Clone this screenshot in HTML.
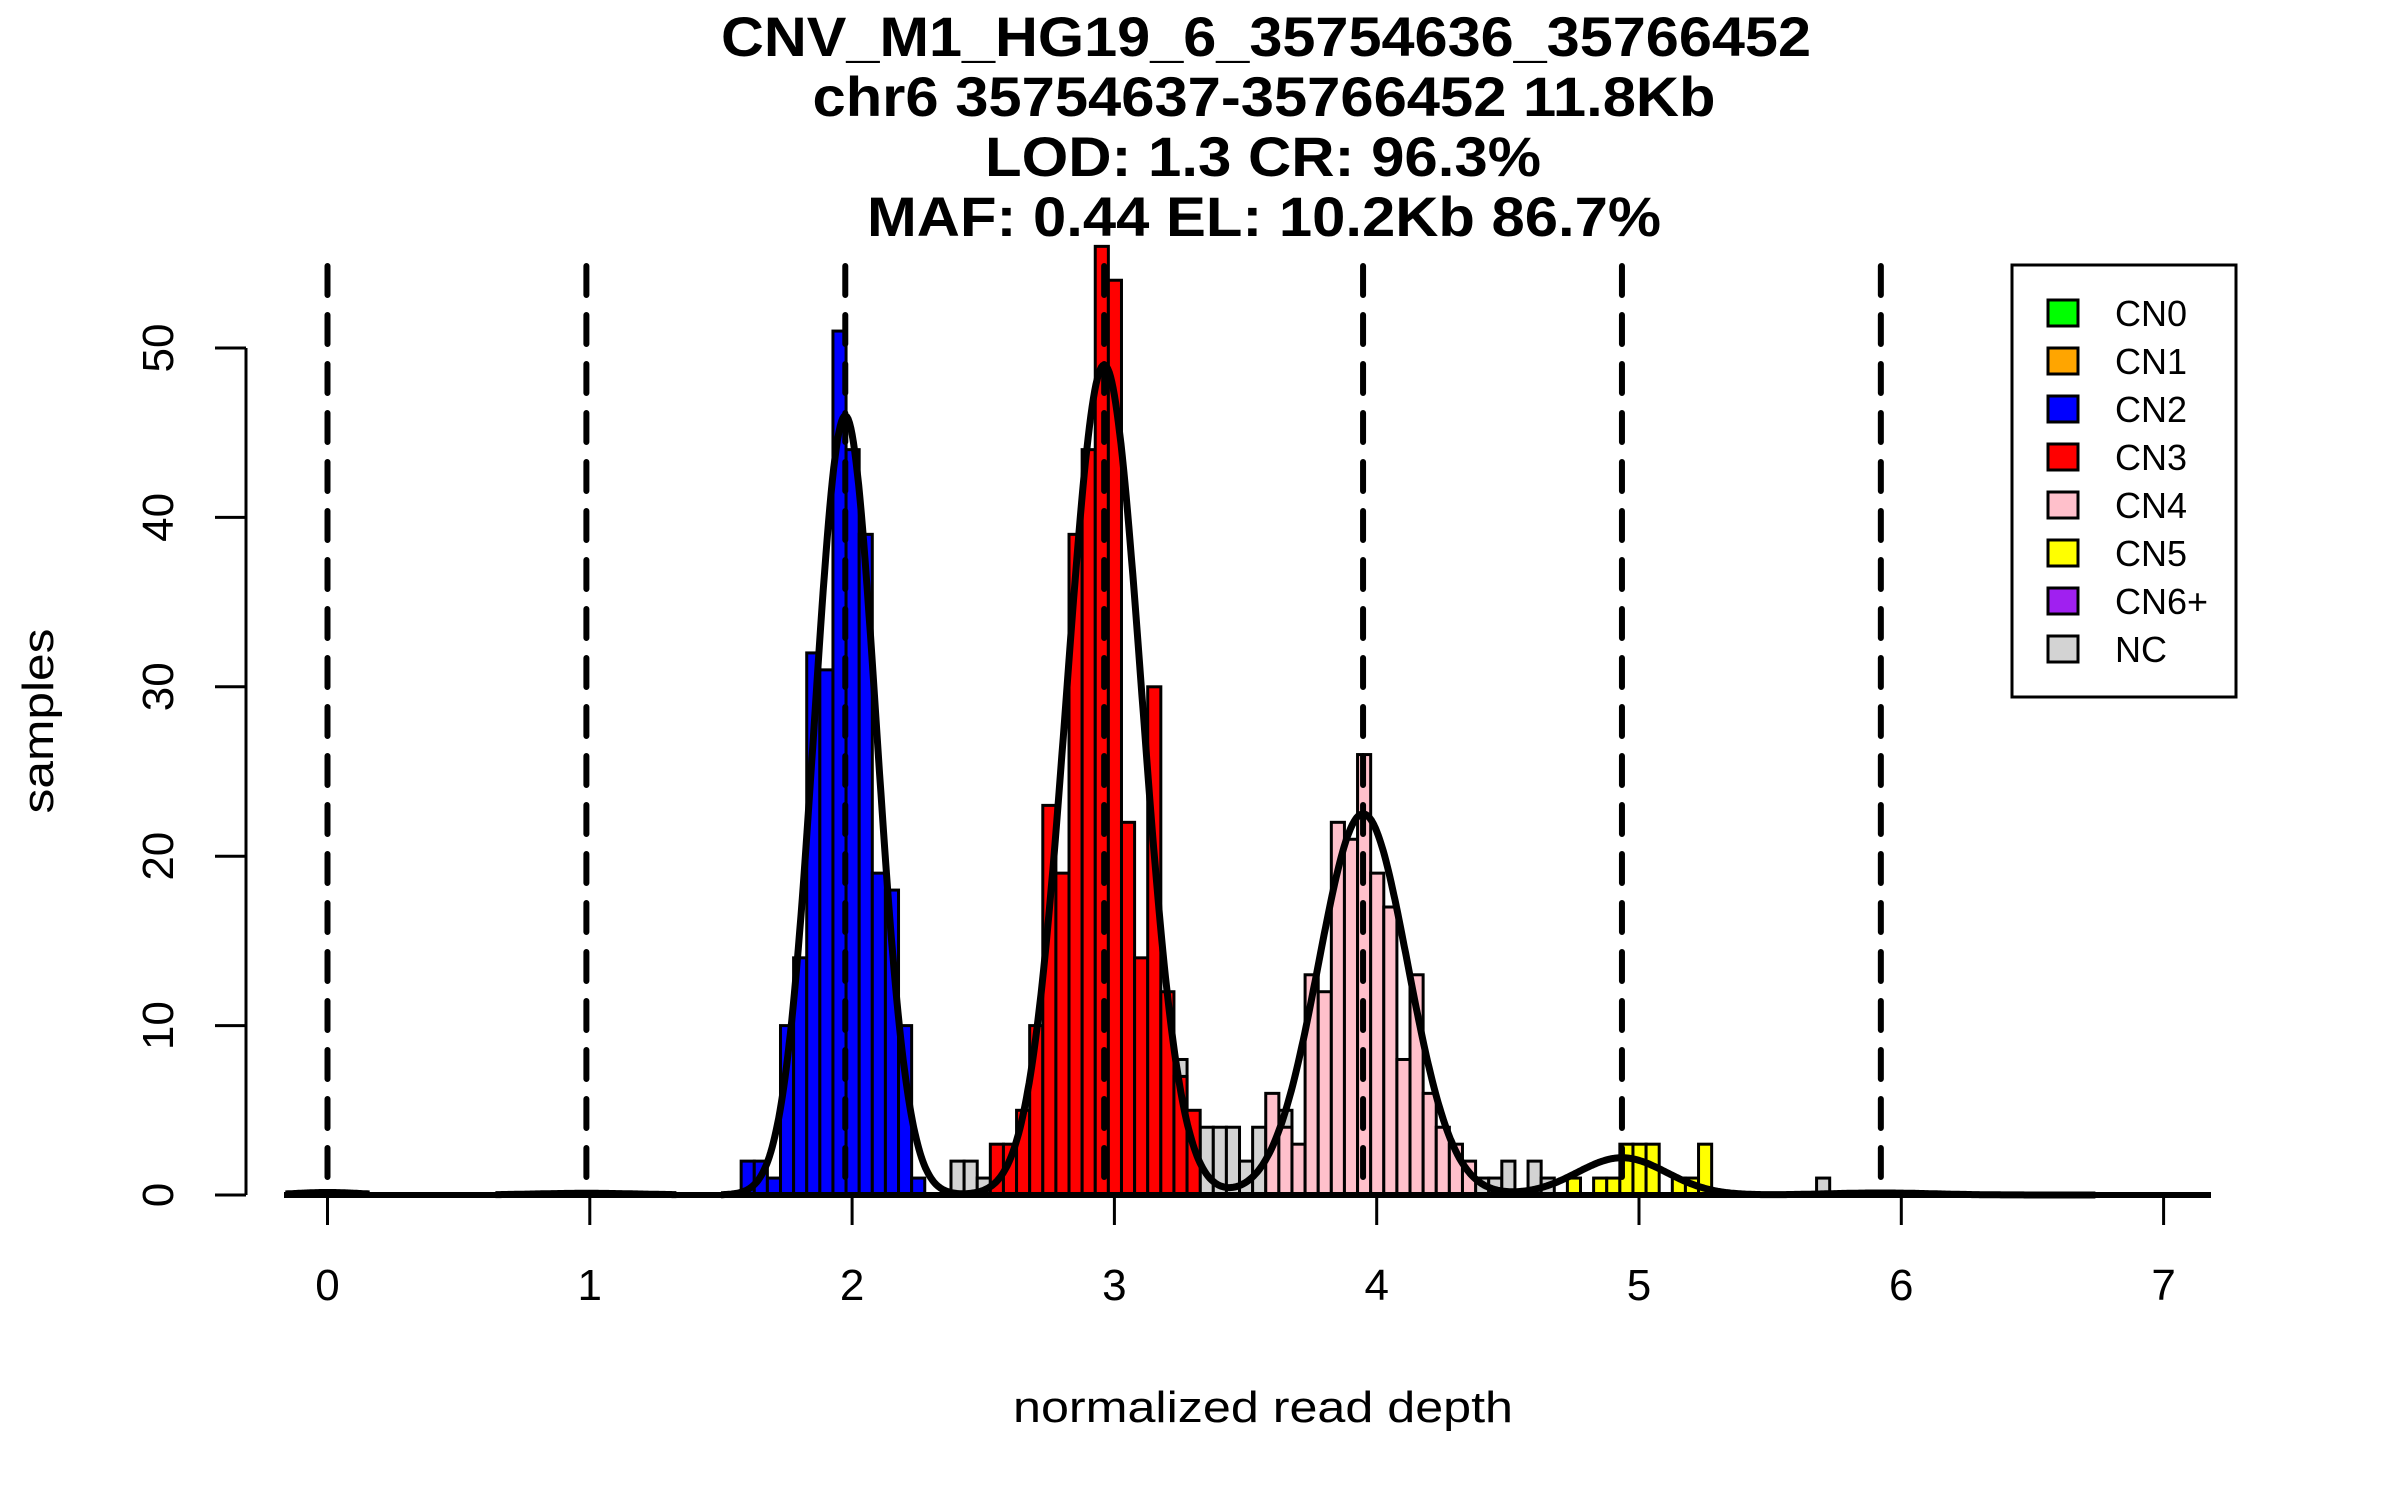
<!DOCTYPE html>
<html><head><meta charset="utf-8"><title>CNV histogram</title>
<style>html,body{margin:0;padding:0;background:#fff;}svg{display:block;}</style></head>
<body>
<svg id="chart" width="2400" height="1500" viewBox="0 0 2400 1500" xmlns="http://www.w3.org/2000/svg" font-family="Liberation Sans, Arial, sans-serif">
<rect width="2400" height="1500" fill="#fff"/>
<g font-weight="bold" font-size="56" text-anchor="middle" fill="#000">
<text x="1266" y="56" textLength="1090" lengthAdjust="spacingAndGlyphs">CNV_M1_HG19_6_35754636_35766452</text>
<text x="1264" y="116" textLength="903" lengthAdjust="spacingAndGlyphs">chr6 35754637-35766452 11.8Kb</text>
<text x="1263" y="176" textLength="556" lengthAdjust="spacingAndGlyphs">LOD: 1.3 CR: 96.3%</text>
<text x="1264" y="236" textLength="794" lengthAdjust="spacingAndGlyphs">MAF: 0.44 EL: 10.2Kb 86.7%</text>
</g>
<g id="bars"></g>
<g id="means"></g>
<g id="curve"></g>
<g id="axes"></g>
<text x="1263" y="1422" font-size="44" text-anchor="middle" textLength="500" lengthAdjust="spacingAndGlyphs">normalized read depth</text>
<text transform="translate(53,721) rotate(-90)" font-size="44" text-anchor="middle" textLength="185" lengthAdjust="spacingAndGlyphs">samples</text>
<g id="legend">
<rect x="2012" y="265" width="224" height="432" fill="#fff" stroke="#000" stroke-width="3"/>
</g>
</svg>
<script>
// ---- data ----
const binWidth = 0.05;
const cn2Start = 1.56;
const cn2Counts = [2,2,1,10,14,32,31,51,44,39,19,18,10,1];
const cn3Start = 2.51;
const cn3Counts = [3,3,5,10,23,19,39,44,56,54,22,14,30,12,7,5];
const cn4Start = 3.56;
const cn4Counts = [6,4,3,13,12,22,21,26,19,17,8,13,6,4,3,2];
const cn5Bins = [4.71,4.81,4.86,4.91,4.96,5.01,5.11,5.16,5.21];
const cn5Counts = [1,1,1,3,3,3,1,1,3];
const ncBins = [2.36,2.41,2.46,3.21,3.31,3.36,3.41,3.46,3.51,3.61,4.36,4.41,4.46,4.56,4.61,5.66];
const ncCounts = [2,2,1,8,4,4,4,2,4,5,1,1,2,2,1,1];
const cnMeans = [0,0.987,1.974,2.961,3.948,4.935,5.922];
const fitAmps = [0.15,0.1,46,49,22.5,2.2,0.12];
const fitSigmas = [0.12,0.2,0.118,0.143,0.17,0.17,0.2];
const xTicks = [0,1,2,3,4,5,6,7];
const yTicks = [0,10,20,30,40,50];
const legendLabels = ["CN0","CN1","CN2","CN3","CN4","CN5","CN6+","NC"];
const legendColors = ["#00ff00","#ffa500","#0000ff","#ff0000","#ffc0cb","#ffff00","#a020f0","#d3d3d3"];

// ---- scales ----
const X0 = 327.5, XU = 262.3, Y0 = 1195, YU = 16.94;
const sx = d => X0 + d * XU;
const sy = v => Y0 - v * YU;
const NS = "http://www.w3.org/2000/svg";
function mk(tag, attrs, parent){ const e=document.createElementNS(NS,tag); for(const k in attrs) e.setAttribute(k,attrs[k]); parent.appendChild(e); return e; }

const bars = document.getElementById('bars');
function drawBar(left, count, color, name){
  const off = 0.017;
  const x1 = sx(left+off), x2 = sx(left+off+binWidth);
  const r = mk('rect',{x:x1,y:sy(count),width:x2-x1,height:sy(0)-sy(count),fill:color,stroke:'#000','stroke-width':3},bars);
  
  
}
ncBins.forEach((b,i)=>drawBar(b,ncCounts[i],'#d3d3d3','bar-nc'));
cn2Counts.forEach((c,i)=>drawBar(cn2Start+i*binWidth,c,'#0000ff','bar-cn2'));
cn3Counts.forEach((c,i)=>drawBar(cn3Start+i*binWidth,c,'#ff0000','bar-cn3'));
cn4Counts.forEach((c,i)=>drawBar(cn4Start+i*binWidth,c,'#ffc0cb','bar-cn4'));
cn5Bins.forEach((b,i)=>drawBar(b,cn5Counts[i],'#ffff00','bar-cn5'));

// mean dashed lines
const means = document.getElementById('means');
cnMeans.forEach(m=>{
  const l = mk('line',{x1:sx(m),x2:sx(m),y1:266,y2:Y0,stroke:'#000','stroke-width':6,'stroke-dasharray':'29 20','stroke-linecap':'round'},means);
  
  
});

// density curve
const curve = document.getElementById('curve');
const base = mk('line',{x1:284,x2:2211,y1:Y0,y2:Y0,stroke:'#000','stroke-width':6},curve);


function dens(x){ let s=0; for(let i=0;i<cnMeans.length;i++){ const z=(x-cnMeans[i])/fitSigmas[i]; s+=fitAmps[i]*Math.exp(-0.5*z*z);} return s; }
[[-0.16,0.16],[0.64,1.33],[1.5,6.74]].forEach(seg=>{
  let d=''; const n=Math.round((seg[1]-seg[0])/0.005);
  for(let i=0;i<=n;i++){ const x=seg[0]+i*(seg[1]-seg[0])/n; d+=(i?'L':'M')+sx(x).toFixed(1)+','+sy(dens(x)).toFixed(1); }
  const p = mk('path',{d:d,fill:'none',stroke:'#000','stroke-width':7,'stroke-linejoin':'round'},curve);
  
  
});

// axes
const axes = document.getElementById('axes');
const ya = mk('line',{x1:246,x2:246,y1:sy(50),y2:sy(0),stroke:'#000','stroke-width':3},axes);


yTicks.forEach(v=>{
  const t = mk('line',{x1:215,x2:246,y1:sy(v),y2:sy(v),stroke:'#000','stroke-width':3},axes);
  
  
  const lb = mk('text',{transform:`translate(173,${sy(v)}) rotate(-90)`,'font-size':44,'text-anchor':'middle'},axes);
  lb.textContent = v;
  
  
});
xTicks.forEach(v=>{
  const t = mk('line',{x1:sx(v),x2:sx(v),y1:Y0,y2:1225,stroke:'#000','stroke-width':3},axes);
  
  
  const lb = mk('text',{x:sx(v),y:1300,'font-size':44,'text-anchor':'middle'},axes);
  lb.textContent = v;
  
  
});

// legend
const legend = document.getElementById('legend');
legendLabels.forEach((lab,i)=>{
  const cy = 313 + i*48;
  const g = mk('g',{},legend);
  
  
  mk('rect',{x:2048,y:cy-13,width:30,height:26,fill:legendColors[i],stroke:'#000','stroke-width':3},g);
  const t = mk('text',{x:2115,y:cy+13,'font-size':36},g);
  t.textContent = lab;
});
</script>
</body></html>
